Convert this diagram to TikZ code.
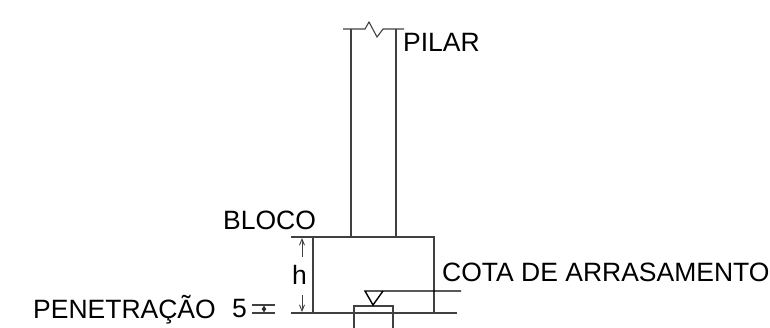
\documentclass[tikz,border=0pt]{standalone}
\usepackage{fontspec}
\setmainfont{Liberation Sans}
\usetikzlibrary{arrows.meta}

\tikzset{
	thinline/.style={draw=black!75, line width=1.1pt},
	heavyline/.style={draw=black, line width=1.4pt},
	dimline/.style={draw=black!75, line width=0.9pt, -{Straight Barb[length=6pt,width=5pt]}},
	smalldim/.style={draw=black!85, line width=1.2pt, {Latex[length=3.5pt,width=5pt]}-{Latex[length=3.5pt,width=5pt]}},
	label/.style={anchor=base west, inner sep=0pt, font=\fontsize{26.5}{26.5}\selectfont}
}

\begin{document}
\begin{tikzpicture}[x=1pt, y=-1pt]
	\useasboundingbox (0,0) rectangle (770,328);

	% --- pillar
	\draw[thinline] (351,29) -- (351,237);
	\draw[thinline] (396,29) -- (396,237);
	\draw[thinline] (343,29) -- (365,29) -- (369,22) -- (377,37) -- (383,29) -- (404,29);

	% --- block
	\draw[thinline] (291,237) -- (434,237) -- (434,313);
	\draw[thinline] (313,237) -- (313,313);
	\draw[thinline] (291,313) -- (457,313);

	% --- pile
	\draw[thinline] (354,328) -- (354,306) -- (393,306) -- (393,328);

	% --- level mark
	\draw[heavyline] (461,291) -- (365,291) -- (373,305) -- (383,291);

	% --- dimensions
	\draw[dimline] (302,257) -- (302,238);
	\draw[dimline] (302,295) -- (302,312);
	\foreach \y in {305,313}
		\draw[thinline] (252,\y) -- (275,\y);
	\draw[smalldim] (264,305.5) -- (264,312.5);

	% --- labels
	\node[label] (pilar) at (403,52) {PILAR};
	\node[label] (bloco) at (223,230) {BLOCO};
	\node[label] (altura) at (292,285) {h};
	\node[label] (cota) at (442,282) {COTA DE ARRASAMENTO};
	\node[label] (penetracao) at (33,318) {PENETRAÇÃO};
	\node[label] (cinco) at (232,317) {5};
\end{tikzpicture}
\end{document}
